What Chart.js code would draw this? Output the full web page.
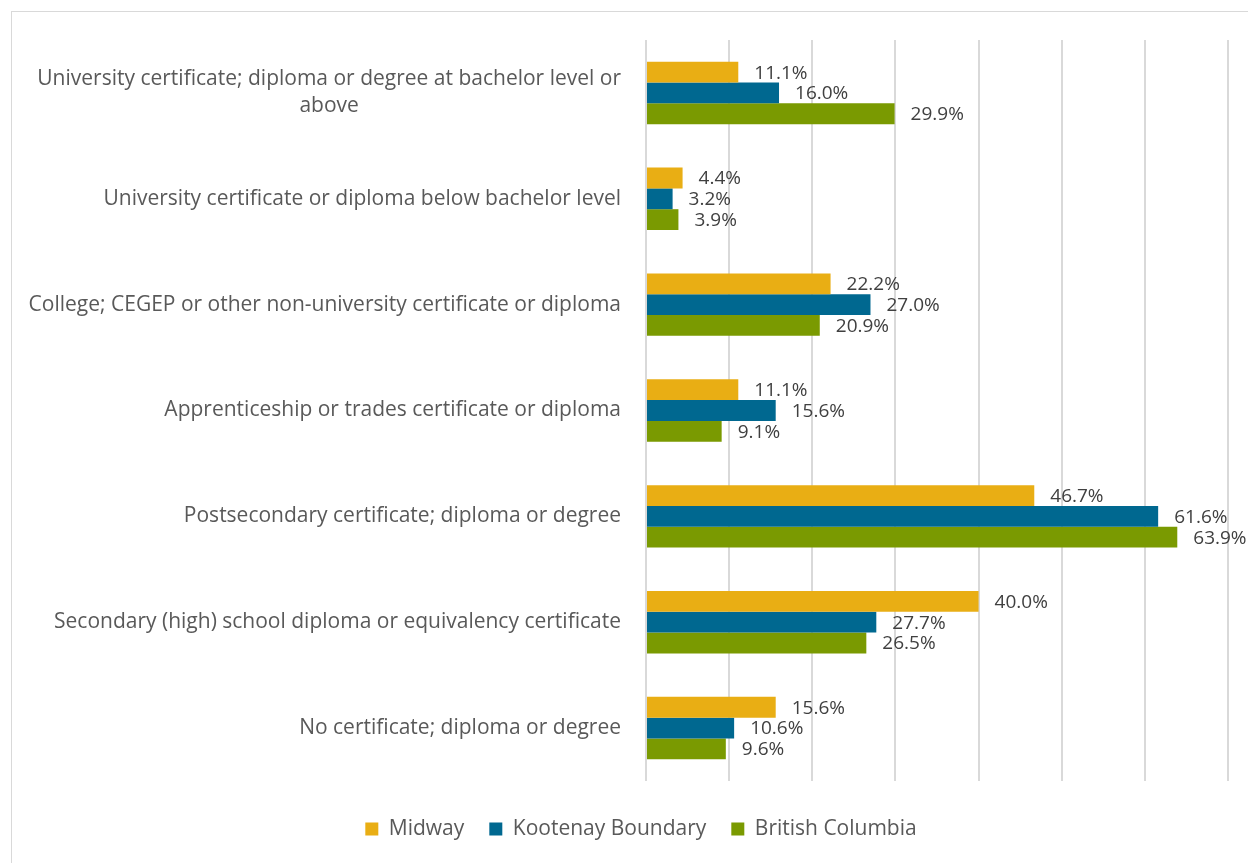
<!DOCTYPE html>
<html>
<head>
<meta charset="utf-8">
<script src="https://cdn.jsdelivr.net/npm/chart.js@4.4.1/dist/chart.umd.min.js"></script>
<style>
  html, body { margin: 0; padding: 0; background: #fff; overflow: hidden; }
  #frame { position: absolute; left: 11px; top: 11px; width: 1258px; height: 870px; border: 1px solid #d9d9d9; background: #fff; }
  canvas { display: block; }
</style>
</head>
<body>
<div id="frame"><canvas id="c" width="1258" height="870"></canvas></div>
<script>
const categories = [
  ["University certificate; diploma or degree at bachelor level or", "above"],
  "University certificate or diploma below bachelor level",
  "College; CEGEP or other non-university certificate or diploma",
  "Apprenticeship or trades certificate or diploma",
  "Postsecondary certificate; diploma or degree",
  "Secondary (high) school diploma or equivalency certificate",
  "No certificate; diploma or degree"
];
const seriesNames = ["Midway", "Kootenay Boundary", "British Columbia"];
const midway = [11.1, 4.4, 22.2, 11.1, 46.7, 40.0, 15.6];
const kootenay = [16.0, 3.2, 27.0, 15.6, 61.6, 27.7, 10.6];
const bc = [29.9, 3.9, 20.9, 9.1, 63.9, 26.5, 9.6];
const colors = ["#E9AE14", "#006890", "#7A9A01"];
const xTicks = [0, 10, 20, 30, 40, 50, 60, 70];

const FONT = "'Open Sans', 'Noto Sans', sans-serif";

const labelPlugin = {
  id: 'customLabels',
  afterDraw(chart) {
    const ctx = chart.ctx;
    const yScale = chart.scales.y;
    const area = chart.chartArea;
    ctx.save();
    // category labels
    ctx.font = "21px " + FONT;
    ctx.fillStyle = "#595959";
    ctx.textBaseline = "middle";
    const rightEdge = area.left - 25;
    const lineH = 27;
    categories.forEach((lab, i) => {
      const lines = Array.isArray(lab) ? lab : [lab];
      const yc = yScale.getPixelForValue(i);
      const maxW = Math.max(...lines.map(l => ctx.measureText(l).width));
      const cx = rightEdge - maxW / 2;
      ctx.textAlign = "center";
      lines.forEach((l, k) => {
        const y = yc + (k - (lines.length - 1) / 2) * lineH;
        ctx.fillText(l, cx, y);
      });
    });
    // data labels
    ctx.font = "19px " + FONT;
    ctx.fillStyle = "#404040";
    ctx.textAlign = "left";
    chart.data.datasets.forEach((ds, di) => {
      const meta = chart.getDatasetMeta(di);
      meta.data.forEach((bar, i) => {
        ctx.fillText(ds.data[i].toFixed(1) + "%", bar.x + 16, bar.y + 1);
      });
    });
    ctx.restore();
  }
};

new Chart(document.getElementById('c'), {
  type: 'bar',
  data: {
    labels: categories,
    datasets: [
      { label: seriesNames[0], data: midway, backgroundColor: colors[0] },
      { label: seriesNames[1], data: kootenay, backgroundColor: colors[1] },
      { label: seriesNames[2], data: bc, backgroundColor: colors[2] }
    ]
  },
  options: {
    indexAxis: 'y',
    responsive: false,
    animation: false,
    datasets: { bar: { categoryPercentage: 0.59, barPercentage: 1.0, borderWidth: 0 } },
    layout: { padding: { left: 42, right: 42, top: 28, bottom: 32.5 } },
    scales: {
      x: {
        min: 0, max: 70,
        afterBuildTicks: (s) => { s.ticks = xTicks.map(v => ({ value: v })); },
        afterFit: (s) => { s.height = 12.5; },
        ticks: { display: false },
        grid: { color: '#d9d9d9', lineWidth: 2, drawTicks: false },
        border: { display: false }
      },
      y: {
        afterFit: (s) => { s.width = 592; },
        ticks: { display: false },
        grid: { display: false, drawTicks: false },
        border: { display: false }
      }
    },
    plugins: {
      legend: {
        position: 'bottom',
        labels: {
          boxWidth: 13, boxHeight: 13, padding: 25,
          color: '#595959',
          font: { family: FONT, size: 21 }
        }
      },
      tooltip: { enabled: false }
    }
  },
  plugins: [labelPlugin]
});
</script>
</body>
</html>
